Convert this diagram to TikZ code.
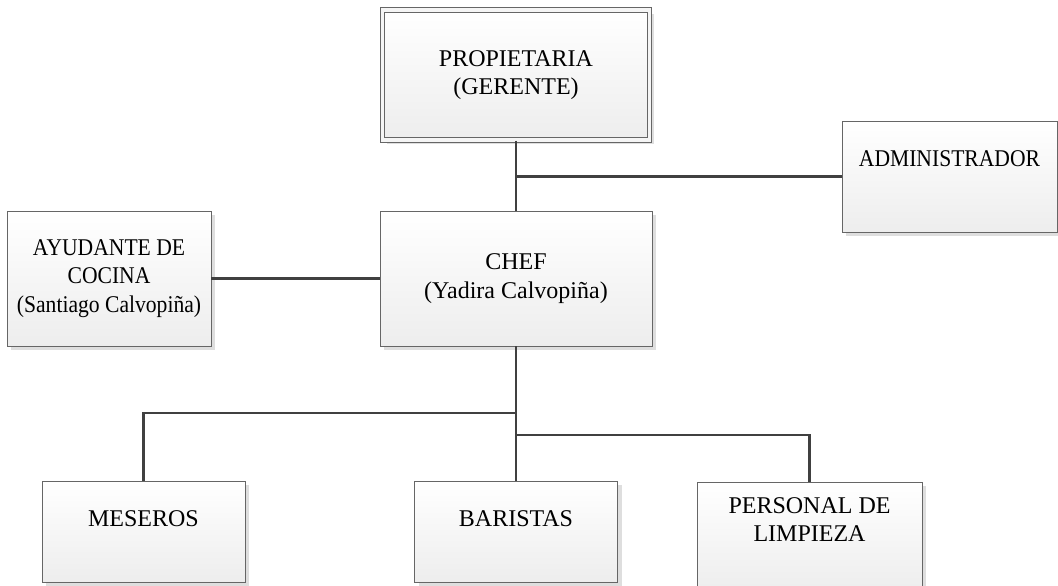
\documentclass[tikz,border=0pt]{standalone}
\usepackage{fontspec}
\setmainfont{Liberation Serif}
\usepackage{graphicx}
\usetikzlibrary{positioning, shadows}
\tikzset{
    unit/.style={draw=black!60, line width=0.8pt, top color=white, bottom color=black!7,
        drop shadow={shadow xshift=4pt, shadow yshift=-4pt, fill=black!13, opacity=1},
        align=center, inner sep=0pt}, % every box of the chart
    unittext/.style={label={[anchor=center, yshift=-38pt, align=center]north:#1}}, % text sitting high in the box
    link/.style={draw=black!75, line width=2.6pt}, % connectors between boxes
}
\newcommand{\squeezed}[1]{\scalebox{0.9}[1]{#1}} % long titles squeezed into their box

\begin{document}
\begin{tikzpicture}[
        x=1pt, y=-1pt,
        font=\fontsize{24}{28.5}\selectfont,
    ]
    \useasboundingbox (0,0) rectangle (1058,586);

    \node[unit, double=black!4, double distance=3.5pt, line width=1pt,
          minimum width=267pt, minimum height=130pt] (prop) at (516,75) {PROPIETARIA\\(GERENTE)};
    \node[unit, minimum width=215pt, minimum height=111pt, unittext=\squeezed{ADMINISTRADOR}] (admin) at (949.5,176.5) {};
    \node[unit, minimum width=272pt, minimum height=135pt] (chef) at (516,278.5) {CHEF\\(Yadira Calvopiña)};
    \node[unit, minimum width=204pt, minimum height=135pt] (ayud) at (109,278.5)
        {\squeezed{AYUDANTE DE}\\\squeezed{COCINA}\\\squeezed{(Santiago Calvopiña)}};
    \node[unit, minimum width=203pt, minimum height=101pt, unittext=MESEROS] (meseros) at (143.5,531.5) {};
    \node[unit, minimum width=203pt, minimum height=101pt, unittext=BARISTAS] (baristas) at (516,531.5) {};
    \node[unit, minimum width=225pt, minimum height=110pt, unittext={PERSONAL DE\\LIMPIEZA}] (limpieza) at (809.5,537) {};

    % branch points on the trunk below the chef
    \coordinate (busm) at (516,413);
    \coordinate (busp) at (516,435);

    \draw[link] (prop.south) -- (chef.north);
    \draw[link] (prop.south |- admin.west) -- (admin.west);
    \draw[link] (ayud.east) -- (chef.west);
    \draw[link] (chef.south) -- (baristas.north);
    \draw[link] (busm) -| (meseros.north);
    \draw[link] (busp) -| (limpieza.north);
\end{tikzpicture}
\end{document}
